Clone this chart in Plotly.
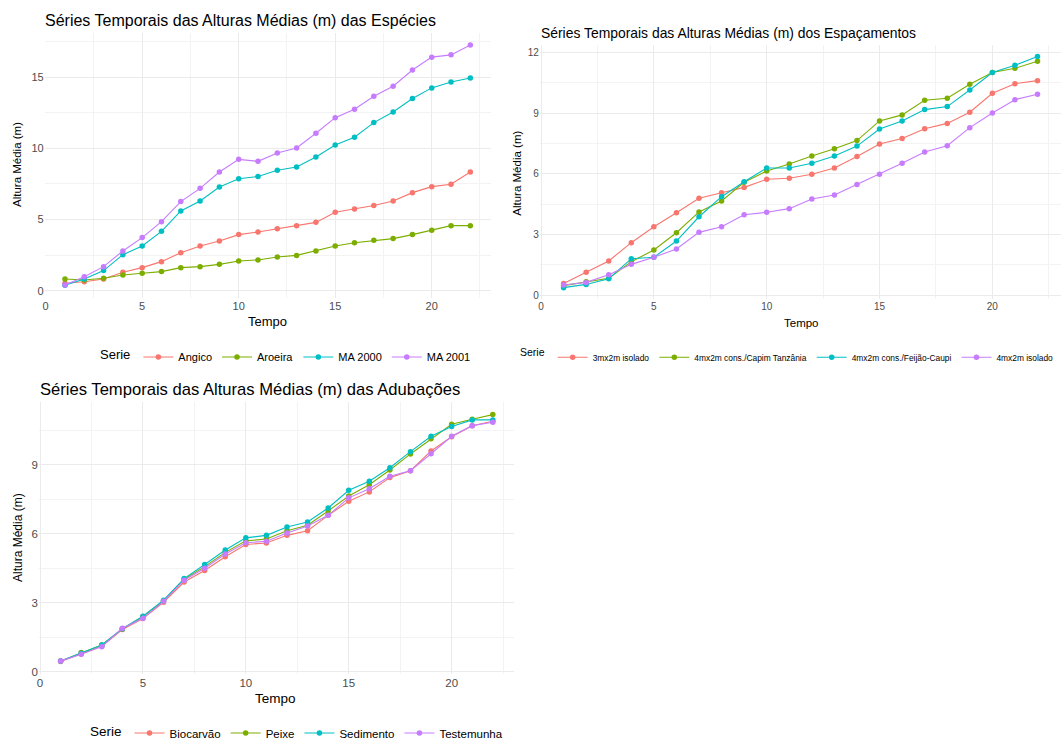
import plotly.graph_objects as go

W, H = 1063, 740

# ---------------- data ----------------
tempo = [1, 2, 3, 4, 5, 6, 7, 8, 9, 10, 11, 12, 13, 14, 15, 16, 17, 18, 19, 20, 21, 22]

# Espécies
especies_nomes = ["Angico", "Aroeira", "MA 2000", "MA 2001"]
angico = [0.52, 0.63, 0.82, 1.29, 1.62, 2.04, 2.67, 3.14, 3.49, 3.94, 4.12, 4.36, 4.57, 4.80, 5.51, 5.74, 5.98, 6.30, 6.89, 7.31, 7.48, 8.34]
aroeira = [0.82, 0.75, 0.87, 1.10, 1.22, 1.34, 1.62, 1.69, 1.85, 2.09, 2.16, 2.37, 2.48, 2.79, 3.14, 3.37, 3.54, 3.66, 3.94, 4.24, 4.57, 4.57]
ma2000 = [0.38, 0.82, 1.41, 2.53, 3.14, 4.17, 5.60, 6.30, 7.29, 7.87, 8.02, 8.46, 8.69, 9.40, 10.24, 10.78, 11.81, 12.56, 13.50, 14.25, 14.67, 14.95]
ma2001 = [0.40, 0.98, 1.69, 2.79, 3.73, 4.85, 6.26, 7.19, 8.34, 9.23, 9.09, 9.68, 10.03, 11.06, 12.16, 12.75, 13.66, 14.37, 15.51, 16.41, 16.57, 17.27]

# Espaçamentos
espac_nomes = ["3mx2m isolado", "4mx2m cons./Capim Tanzânia", "4mx2m cons./Feijão-Caupi", "4mx2m isolado"]
esp_3x2_iso = [0.59, 1.14, 1.70, 2.60, 3.39, 4.08, 4.79, 5.07, 5.33, 5.73, 5.78, 5.98, 6.29, 6.85, 7.47, 7.74, 8.23, 8.49, 9.04, 9.98, 10.45, 10.60]
esp_4x2_capim = [0.48, 0.67, 0.84, 1.66, 2.24, 3.09, 4.12, 4.66, 5.58, 6.14, 6.49, 6.88, 7.24, 7.64, 8.61, 8.91, 9.63, 9.73, 10.42, 11.00, 11.21, 11.56]
esp_4x2_feijao = [0.38, 0.54, 0.82, 1.81, 1.88, 2.68, 3.88, 4.87, 5.61, 6.29, 6.29, 6.52, 6.88, 7.37, 8.21, 8.61, 9.17, 9.32, 10.14, 11.00, 11.36, 11.79]
esp_4x2_iso = [0.51, 0.64, 1.02, 1.53, 1.88, 2.29, 3.11, 3.39, 3.98, 4.10, 4.28, 4.76, 4.95, 5.47, 5.98, 6.52, 7.08, 7.39, 8.28, 9.00, 9.66, 9.93]

# Adubações
adub_nomes = ["Biocarvão", "Peixe", "Sedimento", "Testemunha"]
biocarvao = [0.45, 0.78, 1.12, 1.84, 2.32, 3.03, 3.91, 4.41, 5.01, 5.54, 5.61, 5.94, 6.14, 6.81, 7.42, 7.83, 8.45, 8.75, 9.61, 10.23, 10.71, 10.90]
peixe = [0.48, 0.84, 1.17, 1.87, 2.41, 3.09, 4.03, 4.58, 5.20, 5.70, 5.78, 6.14, 6.38, 7.00, 7.65, 8.14, 8.78, 9.48, 10.14, 10.77, 10.99, 11.19]
sedimento = [0.48, 0.81, 1.17, 1.88, 2.42, 3.12, 4.06, 4.67, 5.30, 5.83, 5.94, 6.30, 6.52, 7.13, 7.90, 8.29, 8.88, 9.58, 10.25, 10.67, 10.96, 10.96]
testemunha = [0.48, 0.77, 1.10, 1.90, 2.33, 3.07, 3.99, 4.51, 5.13, 5.62, 5.68, 6.04, 6.35, 6.81, 7.57, 7.97, 8.51, 8.75, 9.49, 10.25, 10.71, 10.86]

titulos = [
    "Séries Temporais das Alturas Médias (m) das Espécies",
    "Séries Temporais das Alturas Médias (m) dos Espaçamentos",
    "Séries Temporais das Alturas Médias (m) das Adubações",
]
x_titulo = "Tempo"
y_titulo = "Altura Média (m)"
legenda_titulo = "Serie"

cores = ["#F8766D", "#7CAE00", "#00BFC4", "#C77CFF"]

# ---------------- layout helpers ----------------
FONT = "Liberation Sans, Arial, sans-serif"


def px(x):
    return x / W


def py(y):
    return 1 - y / H


fig = go.Figure()

paineis = [
    dict(nomes=especies_nomes, series=[angico, aroeira, ma2000, ma2001], ax="", legend="legend"),
    dict(nomes=espac_nomes, series=[esp_3x2_iso, esp_4x2_capim, esp_4x2_feijao, esp_4x2_iso], ax="2", legend="legend2"),
    dict(nomes=adub_nomes, series=[biocarvao, peixe, sedimento, testemunha], ax="3", legend="legend3"),
]

for p in paineis:
    for nome, vals, cor in zip(p["nomes"], p["series"], cores):
        fig.add_trace(go.Scatter(
            x=tempo, y=vals, name=nome, mode="lines+markers",
            line=dict(color=cor, width=1.1),
            marker=dict(color=cor, size=5.5),
            xaxis="x" + p["ax"], yaxis="y" + p["ax"],
            legend=p["legend"],
        ))

grid_major = "#EBEBEB"
grid_minor = "#F3F3F3"


def xax(dom, anchor, fsize):
    return dict(
        domain=dom, anchor=anchor, range=[-0.05, 23.05],
        tick0=0, dtick=5, showgrid=True, gridcolor=grid_major, gridwidth=1,
        minor=dict(dtick=2.5, tick0=0, showgrid=True, gridcolor=grid_minor, gridwidth=1),
        zeroline=False, showline=False, ticks="", automargin=False,
        tickfont=dict(family=FONT, size=fsize, color="#4D4D4D"),
    )


def yax(dom, anchor, rng, dt, fsize):
    return dict(
        domain=dom, anchor=anchor, range=rng,
        tick0=0, dtick=dt, showgrid=True, gridcolor=grid_major, gridwidth=1,
        minor=dict(dtick=dt / 2, tick0=0, showgrid=True, gridcolor=grid_minor, gridwidth=1),
        zeroline=False, showline=False, ticks="", automargin=False,
        tickfont=dict(family=FONT, size=fsize, color="#4D4D4D"),
    )


# pixel boxes: (left, right, top, bottom)
b1 = (44.7, 490.6, 33.1, 297.8)
b2 = (539.9, 1061.2, 45.0, 299.2)
b3 = (39.0, 514.4, 402.2, 674.0)

fig.update_layout(
    xaxis=xax([px(b1[0]), px(b1[1])], "y", 11),
    yaxis=yax([py(b1[3]), py(b1[2])], "x", [-0.5, 18.1], 5, 11),
    xaxis2=xax([px(b2[0]), px(b2[1])], "y2", 10),
    yaxis2=yax([py(b2[3]), py(b2[2])], "x2", [-0.19, 12.36], 3, 10),
    xaxis3=xax([px(b3[0]), px(b3[1])], "y3", 11.5),
    yaxis3=yax([py(b3[3]), py(b3[2])], "x3", [-0.09, 11.73], 3, 11.5),
)

anns = []
# panel titles
anns.append(dict(text=titulos[0], x=px(43), y=py(20.7), xanchor="left", yanchor="middle",
                 font=dict(family=FONT, size=16, color="#000000")))
anns.append(dict(text=titulos[1], x=px(539), y=py(32.7), xanchor="left", yanchor="middle",
                 font=dict(family=FONT, size=13.9, color="#000000")))
anns.append(dict(text=titulos[2], x=px(38), y=py(389.3), xanchor="left", yanchor="middle",
                 font=dict(family=FONT, size=16.6, color="#000000")))
# x titles
for xc, yc, fs in [(267.7, 321.7, 13), (801, 323, 11.5), (275, 698, 13.5)]:
    anns.append(dict(text=x_titulo, x=px(xc), y=py(yc), xanchor="center", yanchor="middle",
                     font=dict(family=FONT, size=fs, color="#000000")))
# y titles
for xc, yc, fs in [(17, 165, 11.5), (516.7, 173, 11.5), (18, 538, 12)]:
    anns.append(dict(text=y_titulo, x=px(xc), y=py(yc), xanchor="center", yanchor="middle",
                     textangle=-90, font=dict(family=FONT, size=fs, color="#000000")))
for a in anns:
    a.update(xref="paper", yref="paper", showarrow=False)


def leg(x, y, xanchor, tsize, fsize):
    return dict(
        orientation="h", x=x, y=y, xanchor=xanchor, yanchor="middle",
        title=dict(text=legenda_titulo, side="left", font=dict(family=FONT, size=tsize, color="#000000")),
        font=dict(family=FONT, size=fsize, color="#000000"),
        bgcolor="rgba(0,0,0,0)", itemwidth=30, tracegroupgap=0,
    )


fig.update_layout(
    width=W, height=H,
    margin=dict(l=0, r=0, t=0, b=0, pad=0, autoexpand=False),
    paper_bgcolor="white", plot_bgcolor="white",
    annotations=anns,
    legend=leg(px(98), py(357), "left", 13, 11),
    legend2=leg(px(518), py(357.3), "left", 10.5, 8.4),
    legend3=leg(px(88), py(733), "left", 13.5, 11.5),
    showlegend=True,
)

fig.write_html(
    "out.html",
    config={"displayModeBar": False},
    post_script="document.body.style.margin='0';document.body.style.overflow='hidden';",
)
